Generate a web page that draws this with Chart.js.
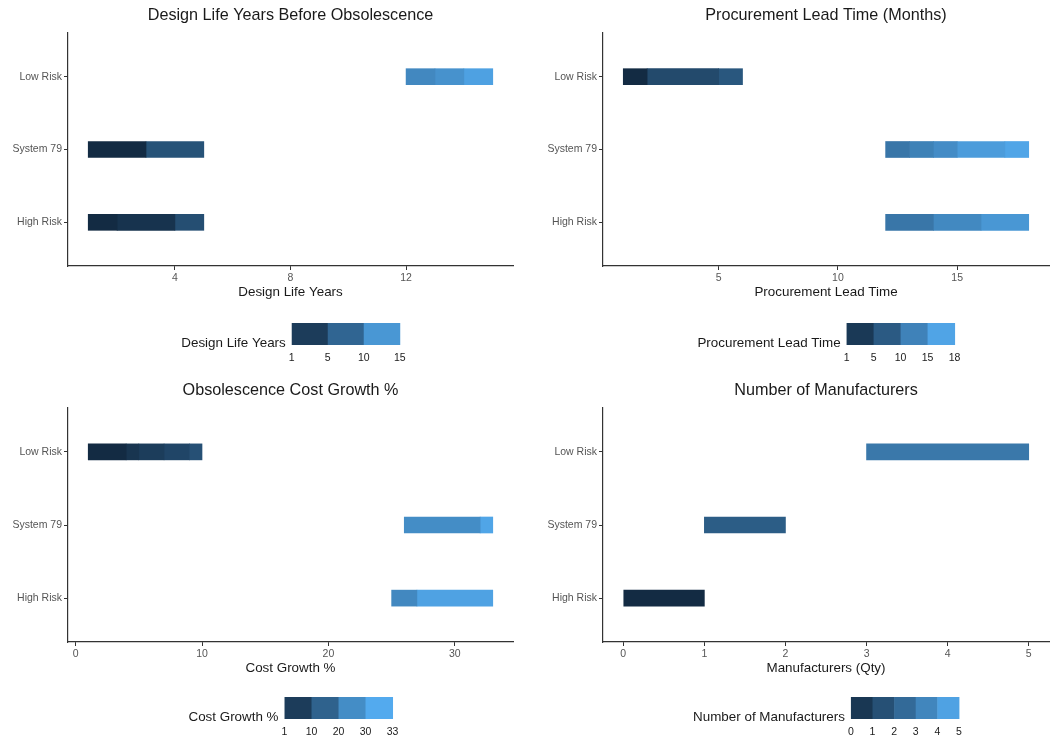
<!DOCTYPE html>
<html>
<head>
<meta charset="utf-8">
<script src="https://cdn.jsdelivr.net/npm/chart.js@4/dist/chart.umd.min.js"></script>
<style>
  html, body { margin: 0; padding: 0; background: #fff; }
  #wrap { position: relative; width: 1051px; height: 741px; overflow: hidden; }
  #wrap canvas { position: absolute; }
</style>
</head>
<body>
<div id="wrap">
  <canvas id="c-life" style="left:0;top:0" width="525" height="370"></canvas>
  <canvas id="c-lead" style="left:525px;top:0" width="526" height="370"></canvas>
  <canvas id="c-cost" style="left:0;top:370px" width="525" height="371"></canvas>
  <canvas id="c-mfr" style="left:525px;top:370px" width="526" height="371"></canvas>
</div>
<script>
/* Obsolescence risk panels: floating bars split into shaded segments */

const categories = ['Low Risk', 'System 79', 'High Risk'];

// segments per category: [start, end, fill value]
const lifeLow = [[12, 13, 11], [13, 14, 12], [14, 15, 13.5]];
const lifeSys = [[1, 3, 1], [3, 5, 5.5]];
const lifeHigh = [[1, 2, 1], [2, 4, 2], [4, 5, 5]];
const lifeTicks = [4, 8, 12];
const lifeBreaks = [1, 5, 10, 15];

const leadLow = [[1, 2, 1], [2, 5, 5.3], [5, 6, 7]];
const leadSys = [[12, 13, 11], [13, 14, 12.4], [14, 15, 13.7], [15, 17, 15.6], [17, 18, 16.6]];
const leadHigh = [[12, 14, 11], [14, 16, 13.3], [16, 18, 15]];
const leadTicks = [5, 10, 15];
const leadBreaks = [1, 5, 10, 15, 18];

const costLow = [[1, 4, 1], [4, 5, 3.6], [5, 7, 5.8], [7, 9, 8], [9, 10, 10.6]];
const costSys = [[26, 32, 25], [32, 33, 30.4]];
const costHigh = [[25, 27, 24], [27, 33, 29.8]];
const costTicks = [0, 10, 20, 30];
const costBreaks = [1, 10, 20, 30, 33];

const mfrLow = [[3, 5, 3]];
const mfrSys = [[1, 2, 2]];
const mfrHigh = [[0, 1, 0]];
const mfrTicks = [0, 1, 2, 3, 4, 5];
const mfrBreaks = [0, 1, 2, 3, 4, 5];

const FONT = '"Liberation Sans", Arial, sans-serif';

/* ---- colour ramp (Lab interpolation, ggplot default blues) ---- */
const hex2rgb = (h) => [1, 3, 5].map((i) => parseInt(h.slice(i, i + 2), 16));
const toLin = (c) => { c /= 255; return c <= 0.04045 ? c / 12.92 : Math.pow((c + 0.055) / 1.055, 2.4); };
const fromLin = (c) => {
  c = c <= 0.0031308 ? 12.92 * c : 1.055 * Math.pow(c, 1 / 2.4) - 0.055;
  return Math.round(Math.max(0, Math.min(1, c)) * 255);
};
function rgb2lab(rgb) {
  const [r, g, b] = rgb.map(toLin);
  const x = (0.4124 * r + 0.3576 * g + 0.1805 * b) / 0.95047;
  const y = 0.2126 * r + 0.7152 * g + 0.0722 * b;
  const z = (0.0193 * r + 0.1192 * g + 0.9505 * b) / 1.08883;
  const f = (t) => (t > 0.008856 ? Math.cbrt(t) : 7.787 * t + 16 / 116);
  const fx = f(x), fy = f(y), fz = f(z);
  return [116 * fy - 16, 500 * (fx - fy), 200 * (fy - fz)];
}
function lab2rgb([L, a, b]) {
  const fy = (L + 16) / 116, fx = fy + a / 500, fz = fy - b / 200;
  const fi = (t) => (t * t * t > 0.008856 ? t * t * t : (t - 16 / 116) / 7.787);
  const x = fi(fx) * 0.95047, y = fi(fy), z = fi(fz) * 1.08883;
  return [
    fromLin(3.2406 * x - 1.5372 * y - 0.4986 * z),
    fromLin(-0.9689 * x + 1.8758 * y + 0.0415 * z),
    fromLin(0.0557 * x - 0.2040 * y + 1.0570 * z),
  ];
}
const labLo = rgb2lab(hex2rgb('#132B43'));
const labHi = rgb2lab(hex2rgb('#56B1F7'));
function ramp(t) {
  t = Math.max(0, Math.min(1, t));
  const [r, g, b] = lab2rgb(labLo.map((v, i) => v + (labHi[i] - v) * t));
  return `rgb(${r},${g},${b})`;
}

/* ---- Plugin: title, axis title and stepped colour bar ---- */
const decorPlugin = {
  id: 'decor',
  afterDraw(chart, args, o) {
    const { ctx, chartArea } = chart;
    const cx = (chartArea.left + chartArea.right) / 2;
    ctx.save();
    ctx.fillStyle = '#1a1a1a';
    ctx.textAlign = 'center';
    ctx.textBaseline = 'middle';
    ctx.font = `16.2px ${FONT}`;
    ctx.fillText(o.title, cx, o.titleY);
    ctx.font = `13.4px ${FONT}`;
    ctx.fillText(o.xTitle, cx, chartArea.bottom + 26);

    // legend: title + colour steps
    const barW = 108, barH = 22, gap = 6;
    const tw = ctx.measureText(o.legendTitle).width;
    const x0 = cx - (tw + gap + barW) / 2;
    const bx = x0 + tw + gap, by = o.legendY;
    ctx.textAlign = 'left';
    ctx.textBaseline = 'alphabetic';
    ctx.fillText(o.legendTitle, x0, by + barH + 2);
    const br = o.breaks, n = br.length - 1, lo = br[0], hi = br[n];
    const step = barW / n;
    for (let i = 0; i < n; i++) {
      ctx.fillStyle = ramp(((br[i] + br[i + 1]) / 2 - lo) / (hi - lo));
      ctx.fillRect(bx + i * step, by, step + 0.5, barH);
    }
    ctx.fillStyle = '#1a1a1a';
    ctx.textAlign = 'center';
    ctx.textBaseline = 'middle';
    ctx.font = `10.5px ${FONT}`;
    br.forEach((v, i) => ctx.fillText(String(v), bx + i * step, by + barH + 13));
    ctx.restore();
  },
};

/* ---- Build one panel ---- */
function makePanel(p) {
  const rows = [p.low, p.sys, p.high];
  const lo = p.breaks[0], hi = p.breaks[p.breaks.length - 1];
  const nSeg = Math.max(...rows.map((r) => r.length));
  const datasets = [];
  for (let k = 0; k < nSeg; k++) {
    const data = [], colors = [];
    rows.forEach((r, i) => {
      if (!r[k]) return;
      data.push({ x: [r[k][0], r[k][1]], y: i });
      colors.push(ramp((r[k][2] - lo) / (hi - lo)));
    });
    datasets.push({ data, backgroundColor: colors, borderWidth: 0, grouped: false, barThickness: 16, maxBarThickness: 16 });
  }

  const all = rows.flat().flatMap((s) => [s[0], s[1]]);
  const dMin = Math.min(...all), dMax = Math.max(...all);
  const pad = (dMax - dMin) * 0.05;

  const canvas = document.getElementById(p.id);
  const W = canvas.width, H = canvas.height;
  const tickFont = { size: 10.5, family: FONT };
  const gridStyle = { display: true, offset: false, drawOnChartArea: false, drawTicks: true, tickLength: 4, tickColor: '#333', tickWidth: 1 };
  const border = { display: true, color: '#333', width: 1.2 };

  new Chart(canvas, {
    type: 'bar',
    data: { datasets },
    options: {
      responsive: false,
      animation: false,
      indexAxis: 'y',
      layout: { padding: { left: 0, top: p.area.top, right: W - p.area.right, bottom: 0 } },
      plugins: {
        legend: { display: false },
        tooltip: { enabled: false },
        decor: { title: p.title, xTitle: p.xTitle, legendTitle: p.legendTitle || p.xTitle, breaks: p.breaks, titleY: p.titleY, legendY: p.legendY },
      },
      scales: {
        x: {
          type: 'linear', min: dMin - pad, max: dMax + pad, offset: false,
          grid: gridStyle, border,
          ticks: { color: '#555', font: tickFont, padding: 2, autoSkip: false, maxRotation: 0, callback: (v) => v },
          afterBuildTicks: (s) => { s.ticks = p.ticks.map((v) => ({ value: v })); },
          afterFit: (s) => { s.height = H - p.area.bottom; },
        },
        y: {
          type: 'linear', min: -0.6, max: 2.6, reverse: true, offset: false,
          grid: gridStyle, border,
          ticks: { color: '#555', font: tickFont, padding: 2, autoSkip: false, callback: (v) => categories[v] },
          afterBuildTicks: (s) => { s.ticks = categories.map((c, i) => ({ value: i })); },
          afterFit: (s) => { s.width = p.area.left; },
        },
      },
    },
    plugins: [decorPlugin],
  });
}

makePanel({
  id: 'c-life', low: lifeLow, sys: lifeSys, high: lifeHigh, ticks: lifeTicks, breaks: lifeBreaks,
  title: 'Design Life Years Before Obsolescence', xTitle: 'Design Life Years',
  area: { left: 68, right: 513, top: 33, bottom: 266 }, titleY: 16, legendY: 323,
});
makePanel({
  id: 'c-lead', low: leadLow, sys: leadSys, high: leadHigh, ticks: leadTicks, breaks: leadBreaks,
  title: 'Procurement Lead Time (Months)', xTitle: 'Procurement Lead Time',
  area: { left: 78, right: 524, top: 33, bottom: 266 }, titleY: 16, legendY: 323,
});
makePanel({
  id: 'c-cost', low: costLow, sys: costSys, high: costHigh, ticks: costTicks, breaks: costBreaks,
  title: 'Obsolescence Cost Growth %', xTitle: 'Cost Growth %',
  area: { left: 68, right: 513, top: 38, bottom: 272 }, titleY: 21, legendY: 327,
});
makePanel({
  id: 'c-mfr', low: mfrLow, sys: mfrSys, high: mfrHigh, ticks: mfrTicks, breaks: mfrBreaks,
  title: 'Number of Manufacturers', xTitle: 'Manufacturers (Qty)', legendTitle: 'Number of Manufacturers',
  area: { left: 78, right: 524, top: 38, bottom: 272 }, titleY: 21, legendY: 327,
});
</script>
</body>
</html>
